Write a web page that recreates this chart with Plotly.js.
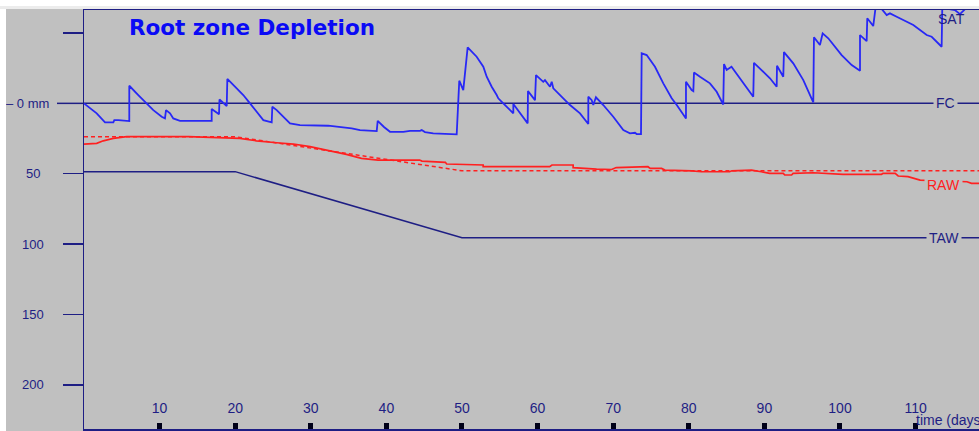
<!DOCTYPE html>
<html>
<head>
<meta charset="utf-8">
<script src="https://cdn.plot.ly/plotly-3.0.1.min.js"></script>
<style>
  html, body { margin: 0; padding: 0; background: #ffffff; width: 979px; height: 431px; overflow: hidden; }
  #strip { position: absolute; left: 0; top: 6px; width: 979px; height: 3px; background: #ececec; }
  #chart { position: absolute; left: 6px; top: 9px; width: 973px; height: 422px; }
</style>
</head>
<body>
<div id="strip"></div>
<div id="chart"></div>
<script>
// ---- data (time in days, depletion in mm; negative = above FC) ----
const depDays = [0,0.79,1.68,2.78,3.88,4.01,4.54,5.99,5.99,7.18,
  8.07,9.17,10.28,10.71,10.85,11.38,11.81,12.70,16.89,16.89,
  17.86,17.92,18.88,18.96,19.97,21.07,21.96,22.84,23.72,24.83,
  24.91,25.49,26.15,27.02,27.25,28.57,32.31,35.41,36.51,38.72,
  38.85,39.68,40.48,42.24,43.12,44.44,44.67,45.1,46.20,49.30,
  49.64,50.17,50.75,51.94,52.82,53.27,53.93,54.59,54.80,55.46,
  56.79,56.79,58.69,58.73,59.66,59.79,60.75,60.98,61.64,61.87,
  62.08,63.40,64.29,65.61,66.71,66.71,67.16,67.37,67.72,68.69,
  70.01,71.34,72.22,72.88,73.11,73.68,73.77,74.43,75.53,76.63,
  77.74,78.41,79.63,79.63,80.38,80.60,80.69,81.48,82.80,83.69,
  84.56,84.66,85.01,85.65,87.43,88.53,88.62,90.74,91.63,91.67,
  92.50,92.59,93.82,95.15,96.47,96.56,97.35,97.71,98.45,100.22,
  101.55,102.65,102.65,103.53,103.61,104.40,104.70,105.52,106.18,106.61,
  107.50,109.70,111.47,112.13,113.45,113.53,115.2,115.87,116.7,118.4];
const depMm = [0,3.6,7.1,13.5,13.5,11.9,11.9,12.6,-12.5,-5.9,
  -1.1,4.8,9.5,10.7,4.8,7.1,10.7,12.4,12.4,4.0,
  7.8,-2.7,1.9,-17.3,-11.8,-5.9,0,6.0,11.9,13.5,
  2.4,4.8,8.3,13.1,14.2,15.4,15.9,17.8,19.0,19.7,
  12.4,16.8,20.2,20.2,19.5,19.5,19.0,20.4,21.3,22.0,
  -16.1,-9.4,-39.8,-33.1,-26.0,-18.9,-11.8,-5.9,-3.6,0,
  7.1,0.5,14.2,-8.7,-2.3,-20.1,-15.3,-16.5,-11.8,-15.3,
  -10.7,-3.6,1.2,7.1,14.7,-4.7,-2.3,1.2,-4.3,1.2,
  9.5,19.0,21.3,20.9,21.8,21.8,-35.5,-34.3,-26.0,-14.2,
  -3.6,1.2,10.7,-15.3,-9.4,-8.7,-21.9,-18.9,-14.2,-8.2,
  0.8,-27.9,-23.7,-26.0,-13.0,-4.7,-28.8,-17.8,-11.8,-26.7,
  -18.9,-36.4,-28.4,-16.5,-0.7,-46.9,-41.4,-49.7,-46.2,-34.3,
  -27.2,-23.2,-48.5,-44.2,-60.4,-54.9,-67.7,-67,-62.7,-63.9,
  -61.5,-55.6,-48.5,-47.3,-40.2,-67.7,-66.3,-63.4,-67.7,-67.7];

const rawDays = [0,1.68,2.55,3.88,5.65,13.8,20.6,22.8,25.5,27.7,
  29.9,32.5,34.7,36.7,38.9,44.4,44.7,47.8,47.97,52.8,
  52.8,61.6,61.9,64.7,64.7,67.8,69.8,70.4,74.6,74.9,
  76.4,76.85,79.7,80.4,81.7,85.4,85.7,88.3,89.6,90.7,
  92.5,92.7,93.6,93.8,96.5,100.4,105.5,105.7,107.3,107.7,
  109.0,109.7,110.6,116.8,117.4,120];
const rawMm = [28.9,28.4,26.6,24.9,23.7,23.7,24.9,26.6,28.0,28.9,
  30.8,33.5,36.2,39.1,40.3,40.3,41.0,41.9,43.1,43.8,
  45.0,45.0,43.8,43.8,45.7,46.7,47.0,45.6,45.0,46.2,
  46.2,47.4,47.4,47.9,48.6,48.6,47.9,47.4,48.6,49.7,
  49.7,50.9,50.9,49.7,49.3,50.4,50.4,49.7,49.7,51.6,
  52.1,53.3,54.5,55.7,56.8,56.8];

const rawStdDays = [0,20,50,120];
const rawStdMm = [23.7,23.7,47.9,47.9];

const tawDays = [0,20,50,120];
const tawMm = [48.5,48.5,95.5,95.5];

const FC = 0;
const SAT = -66.3;
const fcDays = [0,120];

const xTickVals = [10,20,30,40,50,60,70,80,90,100,110];
const yTickVals = [-50,0,50,100,150,200];
const yTickText = ['', '\u2013\u00a00 mm', '50', '100', '150', '200'];

const NAVY = '#1e1e84';
const BLUE = '#2828f5';
const RED = '#ff2020';
const GRAY = '#c0c0c0';
const FONT = 'Liberation Sans, Arial, sans-serif';

const traces = [
  {x: fcDays, y: fcDays.map(() => FC), mode: 'lines', line: {color: NAVY, width: 1.5}, hoverinfo: 'skip'},
  {x: tawDays, y: tawMm, mode: 'lines', line: {color: NAVY, width: 1.5}, hoverinfo: 'skip'},
  {x: rawDays, y: rawMm, mode: 'lines', line: {color: RED, width: 1.7}, hoverinfo: 'skip'},
  {x: rawStdDays, y: rawStdMm, mode: 'lines', line: {color: RED, width: 1.5, dash: '4px,3px'}, hoverinfo: 'skip'},
  {x: depDays, y: depMm, mode: 'lines', line: {color: BLUE, width: 1.8}, hoverinfo: 'skip'}
];

// y tick labels, placed through the y scale, centred left of the axis as in the reference
const yLabelAnn = yTickVals.map((v, i) => ({
  x: i === 1 ? -0.0626 : -0.0575, xref: 'paper', y: v, yref: 'y',
  text: yTickText[i], showarrow: false, xanchor: 'center', yanchor: 'middle',
  font: {family: FONT, size: 13, color: NAVY}
})).filter(a => a.text !== '');

const layout = {
  width: 973, height: 422,
  margin: {l: 78, r: 0, t: 1, b: 2, pad: 0},
  paper_bgcolor: GRAY, plot_bgcolor: GRAY,
  showlegend: false,
  font: {family: FONT, color: NAVY, size: 13},
  title: {
    text: '<b>Root zone Depletion</b>',
    font: {family: 'DejaVu Sans, sans-serif', size: 21.5, color: '#0a0af5'},
    xref: 'container', x: 0.1264, xanchor: 'left',
    yref: 'container', y: 0.9573, yanchor: 'middle'
  },
  xaxis: {
    range: [0, 118.39], showgrid: false, zeroline: false,
    showline: true, mirror: true, linecolor: NAVY, linewidth: 1.5,
    ticks: 'inside', ticklen: 6, tickwidth: 5, tickcolor: '#000018',
    tickvals: xTickVals, ticklabelposition: 'inside', ticklabelstandoff: 7,
    tickfont: {family: FONT, size: 14, color: NAVY}
  },
  yaxis: {
    range: [231.3, SAT], showgrid: false, zeroline: false,
    showline: true, linecolor: NAVY, linewidth: 1.5,
    ticks: 'outside', ticklen: 20, tickwidth: 1.5, tickcolor: NAVY,
    tickvals: yTickVals, showticklabels: false
  },
  shapes: [
    {type: 'line', xref: 'paper', yref: 'y', x0: -0.0302, x1: 0, y0: FC, y1: FC,
     line: {color: NAVY, width: 1.5}}
  ],
  annotations: yLabelAnn.concat([
    {x: 113.95, y: FC, xref: 'x', yref: 'y', text: 'FC', showarrow: false,
     font: {family: FONT, size: 14, color: NAVY}, bgcolor: GRAY, borderpad: 2},
    {x: 113.75, y: 95.5, xref: 'x', yref: 'y', text: 'TAW', showarrow: false,
     font: {family: FONT, size: 14, color: NAVY}, bgcolor: GRAY, borderpad: 2},
    {x: 113.75, y: 58, xref: 'x', yref: 'y', text: 'RAW', showarrow: false,
     font: {family: FONT, size: 14, color: RED}, bgcolor: GRAY, borderpad: 2},
    {x: 114.8, y: -59.9, xref: 'x', yref: 'y', text: 'SAT', showarrow: false,
     font: {family: FONT, size: 14, color: NAVY}},
    {x: 109.8, y: 225, xref: 'x', yref: 'y', text: 'time (days)', showarrow: false,
     xanchor: 'left', yanchor: 'middle',
     font: {family: FONT, size: 14, color: NAVY}}
  ])
};

Plotly.newPlot('chart', traces, layout, {staticPlot: true, displayModeBar: false});
</script>
</body>
</html>
